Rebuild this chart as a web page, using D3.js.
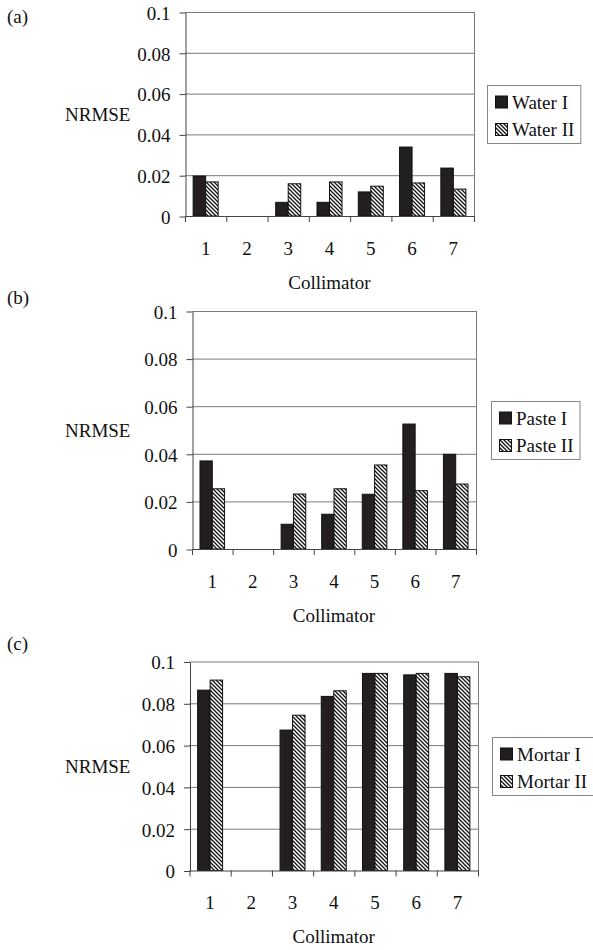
<!DOCTYPE html>
<html>
<head>
<meta charset="utf-8">
<script src="https://cdn.jsdelivr.net/npm/d3@7"></script>
<style>
  body { margin: 0; background: #fff; }
  text { font-family: "Liberation Serif", "Times New Roman", serif; fill: #111; }
</style>
</head>
<body>
<script>
// Collimator numbers along the x axis
const categories = ["1", "2", "3", "4", "5", "6", "7"];

// y axis ticks, shared by all three panels
const yTickValues = [0, 0.02, 0.04, 0.06, 0.08, 0.1];
const yTickLabels = ["0", "0.02", "0.04", "0.06", "0.08", "0.1"];

// NRMSE (collimator 2 has no bar)
const waterI   = [0.0196, null, 0.0067, 0.0067, 0.0118, 0.0338, 0.0235];
const waterII  = [0.0167, null, 0.0158, 0.0167, 0.0146, 0.0162, 0.0132];
const pasteI   = [0.0370, null, 0.0104, 0.0146, 0.0230, 0.0525, 0.0398];
const pasteII  = [0.0253, null, 0.0231, 0.0253, 0.0353, 0.0245, 0.0273];
const mortarI  = [0.0863, null, 0.0672, 0.0833, 0.0943, 0.0936, 0.0943];
const mortarII = [0.0911, null, 0.0743, 0.0860, 0.0943, 0.0943, 0.0927];

const seriesNamesA = ["Water I", "Water II"];
const seriesNamesB = ["Paste I", "Paste II"];
const seriesNamesC = ["Mortar I", "Mortar II"];

// layout of each panel (pixels)
const panels = [
    { tag: "(a)", names: seriesNamesA, values: [waterI, waterII],
      left: 185, right: 474, top: 12, bottom: 216, legendX: 487, tagY: 16 },
    { tag: "(b)", names: seriesNamesB, values: [pasteI, pasteII],
      left: 192, right: 476, top: 311, bottom: 549, legendX: 491, tagY: 297 },
    { tag: "(c)", names: seriesNamesC, values: [mortarI, mortarII],
      left: 189.5, right: 478, top: 661.5, bottom: 870.5, legendX: 492, tagY: 643 }
];

const darkFill = "#231f20";
const gridColor = "#7a7a7a";
const axisColor = "#444";

const svg = d3.select("body")
    .append("svg")
    .attr("width", 593)
    .attr("height", 950);

// diagonal hatch for the second series
const pattern = svg.append("defs")
    .append("pattern")
    .attr("id", "hatch")
    .attr("patternUnits", "userSpaceOnUse")
    .attr("width", 4)
    .attr("height", 4);
pattern.append("rect").attr("width", 4).attr("height", 4).attr("fill", "#fff");
pattern.append("path")
    .attr("d", "M-1,-1 L5,5 M-1,3 L1,5 M3,-1 L5,1")
    .attr("stroke", "#111")
    .attr("stroke-width", 1.3);

const fills = [darkFill, "url(#hatch)"];

function drawPanel(p) {
    const g = svg.append("g");

    const x0 = d3.scaleBand()
        .domain(categories)
        .range([p.left, p.right])
        .padding(0);

    const x1 = d3.scaleBand()
        .domain(p.names)
        .range([0, x0.bandwidth()])
        .paddingInner(0)
        .paddingOuter(0.65);

    const y = d3.scaleLinear()
        .domain([0, 0.1])
        .range([p.bottom, p.top]);

    // gridlines
    g.selectAll(".grid")
        .data(yTickValues.filter((d) => d > 0))
        .enter()
        .append("line")
        .attr("x1", p.left)
        .attr("x2", p.right)
        .attr("y1", (d) => y(d) + 0.5)
        .attr("y2", (d) => y(d) + 0.5)
        .attr("stroke", gridColor)
        .attr("stroke-width", 1);

    // right border of the plot area
    g.append("line")
        .attr("x1", p.right + 0.5).attr("x2", p.right + 0.5)
        .attr("y1", p.top).attr("y2", p.bottom)
        .attr("stroke", gridColor);

    // bars
    p.names.forEach((name, s) => {
        const rows = categories
            .map((c, i) => ({ c: c, v: p.values[s][i] }))
            .filter((d) => d.v !== null);
        g.selectAll(".bar" + s)
            .data(rows)
            .enter()
            .append("rect")
            .attr("x", (d) => x0(d.c) + x1(name))
            .attr("y", (d) => y(d.v))
            .attr("width", x1.bandwidth())
            .attr("height", (d) => p.bottom - y(d.v))
            .attr("fill", fills[s])
            .attr("stroke", "#111")
            .attr("stroke-width", 1);
    });

    // y axis
    const yAxis = g.append("g")
        .attr("transform", `translate(${p.left + 0.5},0.5)`)
        .call(d3.axisLeft(y)
            .tickValues(yTickValues)
            .tickFormat((d, i) => yTickLabels[i])
            .tickSize(6)
            .tickSizeOuter(0)
            .tickPadding(9));
    yAxis.select(".domain").attr("stroke", axisColor);
    yAxis.selectAll(".tick line").attr("stroke", axisColor);
    yAxis.selectAll("text")
        .style("font-size", "19px")
        .style("font-family", "Liberation Serif")
        .attr("fill", "#111")
        .attr("dy", "0.36em");

    // x axis line and ticks between categories
    g.append("line")
        .attr("x1", p.left).attr("x2", p.right + 1)
        .attr("y1", p.bottom + 0.5).attr("y2", p.bottom + 0.5)
        .attr("stroke", axisColor);

    const bounds = categories.map((c) => x0(c)).concat([p.right]);
    g.selectAll(".xtick")
        .data(bounds)
        .enter()
        .append("line")
        .attr("x1", (d) => d + 0.5).attr("x2", (d) => d + 0.5)
        .attr("y1", p.bottom).attr("y2", p.bottom + 6)
        .attr("stroke", axisColor);

    const xAxis = g.append("g")
        .attr("transform", `translate(0,${p.bottom})`)
        .call(d3.axisBottom(x0).tickSize(0).tickPadding(0));
    xAxis.select(".domain").remove();
    xAxis.selectAll("text")
        .attr("y", 32)
        .attr("dy", "0.35em")
        .style("font-size", "19px")
        .style("font-family", "Liberation Serif")
        .attr("fill", "#111");

    // axis titles
    g.append("text")
        .attr("x", (p.left + p.right) / 2)
        .attr("y", p.bottom + 66)
        .attr("dy", "0.35em")
        .attr("text-anchor", "middle")
        .style("font-size", "19px")
        .text("Collimator");

    g.append("text")
        .attr("x", 65)
        .attr("y", (p.top + p.bottom) / 2)
        .attr("dy", "0.35em")
        .style("font-size", "19px")
        .text("NRMSE");

    g.append("text")
        .attr("x", 7)
        .attr("y", p.tagY)
        .attr("dy", "0.35em")
        .style("font-size", "19px")
        .text(p.tag);

    // legend
    const mid = (p.top + p.bottom) / 2;
    const legendTop = mid - 29;
    const legend = g.append("g");
    const box = legend.append("rect")
        .attr("x", p.legendX + 0.5)
        .attr("y", legendTop + 0.5)
        .attr("height", 58)
        .attr("fill", "#fff")
        .attr("stroke", "#888");

    let maxRight = 0;
    p.names.forEach((name, s) => {
        const cy = legendTop + 17 + s * 27.5;
        legend.append("rect")
            .attr("x", p.legendX + 8.5)
            .attr("y", cy - 6)
            .attr("width", 12)
            .attr("height", 12)
            .attr("fill", fills[s])
            .attr("stroke", "#111")
            .attr("stroke-width", 1);
        const t = legend.append("text")
            .attr("x", p.legendX + 25)
            .attr("y", cy)
            .attr("dy", "0.35em")
            .style("font-size", "19px")
            .text(name);
        const bb = t.node().getBBox();
        maxRight = Math.max(maxRight, bb.x + bb.width);
    });
    box.attr("width", maxRight + 6 - p.legendX);
}

panels.forEach(drawPanel);
</script>
</body>
</html>
